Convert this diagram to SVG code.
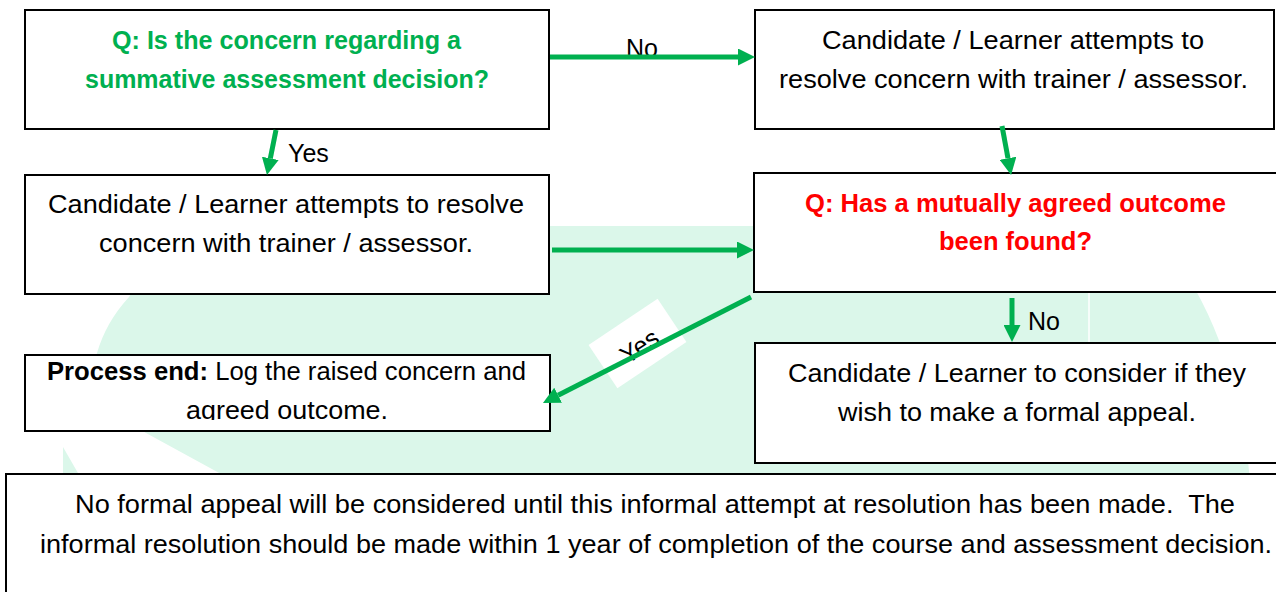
<svg xmlns="http://www.w3.org/2000/svg" width="1276" height="592" viewBox="0 0 1276 592">
<style>
.box{fill:#fff;stroke:#000;stroke-width:2}
.t{font-family:"Liberation Sans",Arial,sans-serif;font-size:25px;fill:#000}
.g{fill:#00b050;font-weight:bold}
.r{fill:#ff0000;font-weight:bold}
.conn{stroke:#00b050;stroke-width:5;fill:none;marker-end:url(#ah)}
.wm{fill:#dbf7ea}
</style>
<defs>
<marker id="ah" viewBox="0 0 17 17" refX="0" refY="8.5" markerWidth="17" markerHeight="17" markerUnits="userSpaceOnUse" orient="auto">
<path d="M0,0 L17,8.5 L0,17 Z" fill="#00b050"/>
</marker>
<clipPath id="c5"><rect x="25" y="355" width="526" height="65"/></clipPath>
</defs>
<rect width="1276" height="592" fill="#fff"/>
<g id="watermark">
<path class="wm" d="M175,226 L1150,226 Q1235,320 1250,480 L232,480 L146,433 Q84,395 97,353 Q106,322 129,297 Q150,262 175,226 Z"/>
<path class="wm" d="M63,447 L82,480 L63,480 Z"/>
<line x1="1089" y1="293" x2="1089" y2="343" stroke="#fff" stroke-width="1.5"/>
</g>
<g id="n1">
<rect class="box" x="25" y="10" width="524" height="119"/>
<text class="t g" x="112" y="49" textLength="349" lengthAdjust="spacingAndGlyphs">Q: Is the concern regarding a</text>
<text class="t g" x="85" y="88" textLength="404" lengthAdjust="spacingAndGlyphs">summative assessment decision?</text>
</g>
<g id="n2">
<rect class="box" x="755" y="10" width="519" height="119"/>
<text class="t" x="822" y="49" textLength="382" lengthAdjust="spacingAndGlyphs">Candidate / Learner attempts to</text>
<text class="t" x="779" y="88" textLength="469" lengthAdjust="spacingAndGlyphs">resolve concern with trainer / assessor.</text>
</g>
<g id="n3">
<rect class="box" x="25" y="175" width="524" height="119"/>
<text class="t" x="48" y="213" textLength="476" lengthAdjust="spacingAndGlyphs">Candidate / Learner attempts to resolve</text>
<text class="t" x="99" y="252" textLength="374" lengthAdjust="spacingAndGlyphs">concern with trainer / assessor.</text>
</g>
<g id="n4">
<rect class="box" x="754" y="173" width="530" height="119"/>
<text class="t r" x="805" y="212" textLength="421" lengthAdjust="spacingAndGlyphs">Q: Has a mutually agreed outcome</text>
<text class="t r" x="939" y="250" textLength="153" lengthAdjust="spacingAndGlyphs">been found?</text>
</g>
<g id="n5">
<rect class="box" x="25" y="355" width="525" height="76"/>
<g clip-path="url(#c5)">
<text class="t" x="47" y="380" textLength="479" lengthAdjust="spacingAndGlyphs"><tspan font-weight="bold">Process end:</tspan> Log the raised concern and</text>
<text class="t" x="186" y="419" textLength="202" lengthAdjust="spacingAndGlyphs">agreed outcome.</text>
</g>
</g>
<g id="n6">
<rect class="box" x="755" y="343" width="530" height="120"/>
<text class="t" x="788" y="382" textLength="458" lengthAdjust="spacingAndGlyphs">Candidate / Learner to consider if they</text>
<text class="t" x="838" y="421" textLength="358" lengthAdjust="spacingAndGlyphs">wish to make a formal appeal.</text>
</g>
<g id="n7">
<rect class="box" x="6" y="474" width="1280" height="130"/>
<text class="t" x="75" y="513" textLength="1160" lengthAdjust="spacingAndGlyphs" xml:space="preserve">No formal appeal will be considered until this informal attempt at resolution has been made.  The</text>
<text class="t" x="40" y="553" textLength="1232" lengthAdjust="spacingAndGlyphs">informal resolution should be made within 1 year of completion of the course and assessment decision.</text>
</g>
<g id="connectors">
<text class="t" x="626" y="57">No</text>
<line class="conn" x1="550" y1="57" x2="738" y2="57"/>
<line class="conn" x1="276" y1="130" x2="270.3" y2="158.4"/>
<text class="t" x="288" y="162">Yes</text>
<line class="conn" x1="1002" y1="126" x2="1008" y2="158.3"/>
<line class="conn" x1="552" y1="250" x2="737" y2="250"/>
<g transform="translate(637.5,343.5) rotate(-33.7)">
<rect x="-41.5" y="-26" width="83" height="52" fill="#fff"/>
<text class="t" x="0" y="12" text-anchor="middle">Yes</text>
</g>
<line class="conn" x1="751" y1="297" x2="558.1" y2="395.3"/>
<line class="conn" x1="1012" y1="298" x2="1012" y2="325"/>
<text class="t" x="1028" y="330">No</text>
</g>
</svg>
